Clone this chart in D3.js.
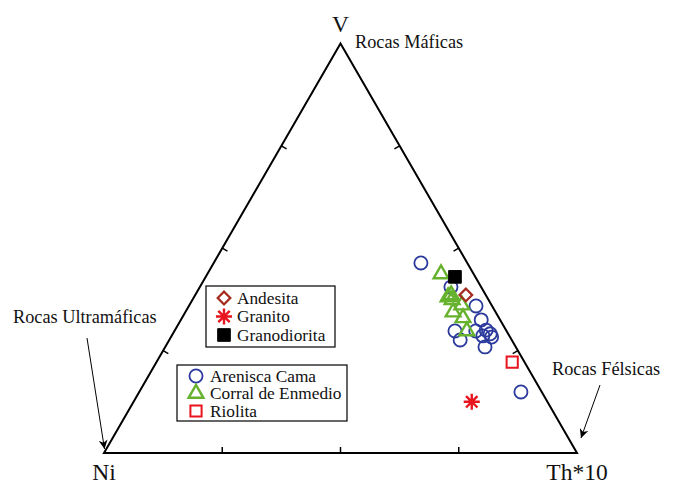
<!DOCTYPE html>
<html>
<head>
<meta charset="utf-8">
<script src="https://cdn.jsdelivr.net/npm/d3@7"></script>
<style>
  html, body { margin: 0; padding: 0; background: #fff; }
  svg { display: block; }
</style>
</head>
<body>
<svg id="chart" width="673" height="485"></svg>
<script>
// Ternary data: [Ni, V, Th*10] in percent
const arenisca = [
  [9.8, 46.4, 43.8], [6.4, 40.5, 53.1], [3.4, 35.9, 60.7], [4.0, 32.5, 63.5],
  [10.9, 29.8, 59.3], [10.9, 27.6, 61.5], [6.5, 29.8, 63.7], [4.2, 30.0, 65.8],
  [3.8, 29.1, 67.1], [5.6, 28.6, 65.8], [6.5, 25.9, 67.6], [4.4, 14.9, 80.7],
  [3.9, 28.3, 67.8]
];
const corral = [
  [6.9, 43.7, 49.4], [8.2, 38.1, 53.7], [7.3, 38.6, 54.1], [6.3, 36.1, 57.6],
  [9.0, 34.4, 56.6], [7.6, 33.0, 59.4], [8.4, 29.8, 61.8], [7.7, 37.4, 54.9]
];
const riolita = [[2.6, 22.2, 75.2]];
const andesita = [[4.2, 38.6, 57.2]];
const granito = [[16.0, 12.5, 71.5]];
const granodiorita = [[4.3, 43.0, 52.7]];
const sideTicks = [25, 50, 75];
const vertexLabels = ["Ni", "V", "Th*10"];
const legend1 = ["Andesita", "Granito", "Granodiorita"];
const legend2 = ["Arenisca Cama", "Corral de Enmedio", "Riolita"];

const FONT = "'Liberation Serif', 'Times New Roman', Times, serif";
const svg = d3.select("#chart").attr("font-family", FONT);
const xS = d3.scaleLinear().domain([0, 1]).range([104, 577]);
const yS = d3.scaleLinear().domain([0, 1]).range([453, 43.4]);
function proj(d) {
  const s = d[0] + d[1] + d[2];
  const v = d[1] / s, t = d[2] / s;
  return [xS(t + v / 2), yS(v)];
}
const pNi = proj([100, 0, 0]), pV = proj([0, 100, 0]), pTh = proj([0, 0, 100]);

// triangle
svg.append("path")
  .attr("d", d3.line()([pNi, pV, pTh]) + "Z")
  .attr("fill", "none").attr("stroke", "#000").attr("stroke-width", 2);

// ticks
const tl = 6;
sideTicks.forEach(f => {
  let p = proj([100 - f, 0, f]);
  svg.append("line").attr("x1", p[0]).attr("y1", p[1]).attr("x2", p[0]).attr("y2", p[1] - tl)
    .attr("stroke", "#000").attr("stroke-width", 1.5);
  p = proj([100 - f, f, 0]);
  svg.append("line").attr("x1", p[0]).attr("y1", p[1]).attr("x2", p[0] + tl * 0.866).attr("y2", p[1] + tl * 0.5)
    .attr("stroke", "#000").attr("stroke-width", 1.5);
  p = proj([0, f, 100 - f]);
  svg.append("line").attr("x1", p[0]).attr("y1", p[1]).attr("x2", p[0] - tl * 0.866).attr("y2", p[1] + tl * 0.5)
    .attr("stroke", "#000").attr("stroke-width", 1.5);
});

function txt(x, y, s, size, anchor) {
  return svg.append("text").attr("x", x).attr("y", y).attr("font-size", size)
    .attr("font-family", FONT).attr("fill", "#111")
    .attr("text-anchor", anchor || "start").text(s);
}
// vertex labels
txt(pNi[0], 480, vertexLabels[0], 23.5, "middle");
txt(pV[0], 32, vertexLabels[1], 23.5, "middle");
txt(pTh[0], 480, vertexLabels[2], 23.5, "middle");

// annotations
txt(355, 48, "Rocas Máficas", 18.3);
txt(13, 323, "Rocas Ultramáficas", 18.3);
txt(552, 375, "Rocas Félsicas", 18.3);

const defs = svg.append("defs");
defs.append("marker").attr("id", "arr").attr("viewBox", "0 0 10 10").attr("refX", 10).attr("refY", 5)
  .attr("markerWidth", 9).attr("markerHeight", 9).attr("orient", "auto").attr("markerUnits", "userSpaceOnUse")
  .append("path").attr("d", "M0,0 L10,5 L0,10 L3,5 Z").attr("fill", "#000");
svg.append("line").attr("x1", 87).attr("y1", 338).attr("x2", 104.5).attr("y2", 449)
  .attr("stroke", "#000").attr("stroke-width", 1).attr("marker-end", "url(#arr)");
svg.append("line").attr("x1", 600).attr("y1", 385).attr("x2", 581).attr("y2", 438)
  .attr("stroke", "#000").attr("stroke-width", 1).attr("marker-end", "url(#arr)");

// custom 8-arm asterisk
const asterisk8 = {
  draw(ctx, size) {
    const r = Math.sqrt(size) / 2;
    for (let i = 0; i < 4; i++) {
      const a = i * Math.PI / 4;
      ctx.moveTo(-r * Math.cos(a), -r * Math.sin(a));
      ctx.lineTo(r * Math.cos(a), r * Math.sin(a));
    }
  }
};
// marker styles
const styles = {
  arenisca: { type: d3.symbolCircle, size: 135, stroke: "#2b3a9c", fill: "none", sw: 1.8, rot: 0 },
  corral: { type: d3.symbolTriangle, size: 95, stroke: "#66b22e", fill: "none", sw: 2.4, rot: 0 },
  riolita: { type: d3.symbolSquare, size: 125, stroke: "#e8141e", fill: "none", sw: 2, rot: 0 },
  andesita: { type: d3.symbolSquare, size: 80, stroke: "#a52a1f", fill: "none", sw: 2.2, rot: 45 },
  granito: { type: asterisk8, size: 260, stroke: "#e8141e", fill: "none", sw: 2.4, rot: 0 },
  granodiorita: { type: d3.symbolSquare, size: 160, stroke: "#000", fill: "#000", sw: 1, rot: 0 }
};
function drawSymbol(g, st, x, y) {
  g.append("path").attr("d", d3.symbol().type(st.type).size(st.size)())
    .attr("transform", `translate(${x},${y}) rotate(${st.rot})`)
    .attr("fill", st.fill).attr("stroke", st.stroke)
    .attr("stroke-width", st.sw);
}
const series = [
  ["arenisca", arenisca], ["corral", corral], ["riolita", riolita],
  ["andesita", andesita], ["granodiorita", granodiorita], ["granito", granito]
];
const gPts = svg.append("g");
series.forEach(([k, arr]) => {
  arr.forEach(d => { const p = proj(d); drawSymbol(gPts, styles[k], p[0], p[1]); });
});

// legends
const lg1 = svg.append("g");
lg1.append("rect").attr("x", 206).attr("y", 286).attr("width", 129).attr("height", 61)
  .attr("fill", "#fff").attr("stroke", "#000").attr("stroke-width", 1.2);
const k1 = ["andesita", "granito", "granodiorita"];
legend1.forEach((name, i) => {
  const y = 298 + i * 18.5;
  drawSymbol(lg1, styles[k1[i]], 224, y);
  lg1.append("text").attr("x", 237).attr("y", y + 5.5).attr("font-size", 17.3)
    .attr("font-family", FONT).attr("fill", "#111").text(name);
});
const lg2 = svg.append("g");
lg2.append("rect").attr("x", 177).attr("y", 365).attr("width", 170).attr("height", 56)
  .attr("fill", "#fff").attr("stroke", "#000").attr("stroke-width", 1.2);
const k2 = ["arenisca", "corral", "riolita"];
legend2.forEach((name, i) => {
  const y = 376 + i * 17.5;
  drawSymbol(lg2, styles[k2[i]], 196, y);
  lg2.append("text").attr("x", 210).attr("y", y + 5.5).attr("font-size", 17.3)
    .attr("font-family", FONT).attr("fill", "#111").text(name);
});
</script>
</body>
</html>
